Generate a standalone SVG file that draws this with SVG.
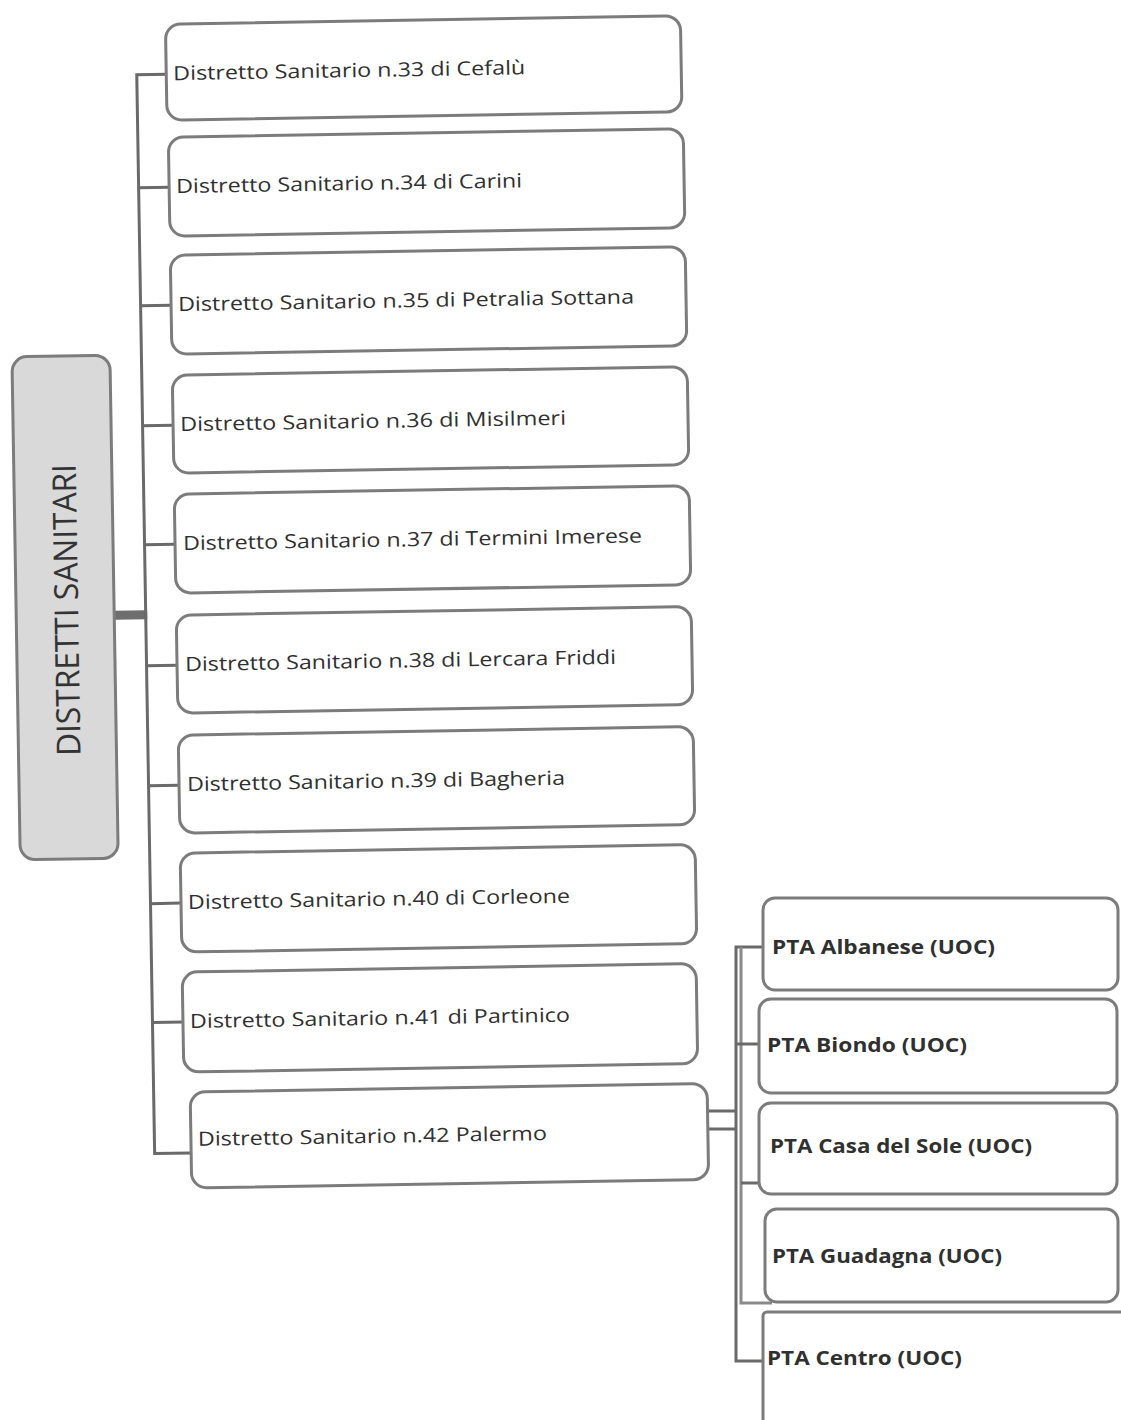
<svg xmlns="http://www.w3.org/2000/svg" width="1121" height="1420" viewBox="0 0 1121 1420">
<style>
.bg{fill:#ffffff}
.box{fill:#ffffff;stroke:#7c7c7c;stroke-width:3}
.root{fill:#d9d9d9;stroke:#7c7c7c;stroke-width:3}
.t{font-family:"Open Sans","Noto Sans",sans-serif;font-size:19.5px;fill:#303030}
.tb{font-family:"Open Sans","Noto Sans",sans-serif;font-size:19.5px;font-weight:bold;fill:#303030}
.rt{font-family:"Open Sans","Noto Sans",sans-serif;font-size:33px;fill:#333333}
.ln{fill:none;stroke:#6a6a6a;stroke-width:3}
.ln2{fill:none;stroke:#8a8a8a;stroke-width:3}
.thick{fill:none;stroke:#6e6e6e;stroke-width:9}
</style>
<rect class="bg" x="0" y="0" width="1121" height="1420"/>
<g id="connectors">
  <g transform="rotate(-0.95)">
    <path class="thick" d="M104 617 H137"/>
    <path class="ln" d="M166 77 H135.5 V1156 H172"/>
    <path class="ln" d="M135.5 190 H166 M135.5 308 H166 M135.5 428 H166 M135.5 547 H166 M135.5 668 H166 M135.5 788 H166 M135.5 906 H166 M135.5 1025 H166"/>
  </g>
  <path class="ln" d="M707 1111 H737 M707 1129 H737"/>
  <path class="ln" d="M763 947 H736 V1361 H763"/>
  <path class="ln2" d="M741 947 V1303 H772"/>
  <path class="ln" d="M736 1044 H761 M741 1183 H770"/>
</g>
<g transform="rotate(-0.95)">
  <g id="root">
    <rect class="root" x="6" y="357" width="98" height="503" rx="15"/>
    <text class="rt" x="68" y="611" text-anchor="middle" textLength="292" lengthAdjust="spacingAndGlyphs" transform="rotate(-90 68 611)">DISTRETTI SANITARI</text>
  </g>
  <g id="ds33">
    <rect class="box" x="165" y="27" width="515" height="96" rx="15"/>
    <text class="t" x="172" y="83" textLength="352" lengthAdjust="spacingAndGlyphs">Distretto Sanitario n.33 di Cefalù</text>
  </g>
  <g id="ds34">
    <rect class="box" x="166" y="140" width="515" height="99" rx="15"/>
    <text class="t" x="173" y="196" textLength="346" lengthAdjust="spacingAndGlyphs">Distretto Sanitario n.34 di Carini</text>
  </g>
  <g id="ds35">
    <rect class="box" x="166" y="258" width="515" height="99" rx="15"/>
    <text class="t" x="173" y="314" textLength="456" lengthAdjust="spacingAndGlyphs">Distretto Sanitario n.35 di Petralia Sottana</text>
  </g>
  <g id="ds36">
    <rect class="box" x="166" y="378" width="515" height="98" rx="15"/>
    <text class="t" x="173" y="434" textLength="386" lengthAdjust="spacingAndGlyphs">Distretto Sanitario n.36 di Misilmeri</text>
  </g>
  <g id="ds37">
    <rect class="box" x="166" y="497" width="515" height="99" rx="15"/>
    <text class="t" x="174" y="553" textLength="459" lengthAdjust="spacingAndGlyphs">Distretto Sanitario n.37 di Termini Imerese</text>
  </g>
  <g id="ds38">
    <rect class="box" x="166" y="618" width="515" height="98" rx="15"/>
    <text class="t" x="174" y="674" textLength="431" lengthAdjust="spacingAndGlyphs">Distretto Sanitario n.38 di Lercara Friddi</text>
  </g>
  <g id="ds39">
    <rect class="box" x="166" y="738" width="515" height="98" rx="15"/>
    <text class="t" x="174" y="794" textLength="378" lengthAdjust="spacingAndGlyphs">Distretto Sanitario n.39 di Bagheria</text>
  </g>
  <g id="ds40">
    <rect class="box" x="166" y="856" width="515" height="99" rx="15"/>
    <text class="t" x="173" y="912" textLength="382" lengthAdjust="spacingAndGlyphs">Distretto Sanitario n.40 di Corleone</text>
  </g>
  <g id="ds41">
    <rect class="box" x="166" y="975" width="514" height="100" rx="15"/>
    <text class="t" x="173" y="1031" textLength="380" lengthAdjust="spacingAndGlyphs">Distretto Sanitario n.41 di Partinico</text>
  </g>
  <g id="ds42">
    <rect class="box" x="172" y="1095" width="517" height="96" rx="15"/>
    <text class="t" x="179" y="1149" textLength="349" lengthAdjust="spacingAndGlyphs">Distretto Sanitario n.42 Palermo</text>
  </g>
</g>
<g id="pta-albanese">
  <rect class="box" x="763" y="898" width="355" height="92" rx="12"/>
  <text class="tb" x="772" y="954" textLength="223" lengthAdjust="spacingAndGlyphs">PTA Albanese (UOC)</text>
</g>
<g id="pta-biondo">
  <rect class="box" x="759" y="999" width="358" height="94" rx="12"/>
  <text class="tb" x="767" y="1052" textLength="200" lengthAdjust="spacingAndGlyphs">PTA Biondo (UOC)</text>
</g>
<g id="pta-casa-del-sole">
  <rect class="box" x="759" y="1103" width="358" height="91" rx="12"/>
  <text class="tb" x="770" y="1153" textLength="262" lengthAdjust="spacingAndGlyphs">PTA Casa del Sole (UOC)</text>
</g>
<g id="pta-guadagna">
  <rect class="box" x="765" y="1209" width="353" height="93" rx="12"/>
  <text class="tb" x="772" y="1263" textLength="230" lengthAdjust="spacingAndGlyphs">PTA Guadagna (UOC)</text>
</g>
<g id="pta-centro">
  <rect class="box" x="763" y="1312" width="370" height="130" rx="4"/>
  <text class="tb" x="767" y="1365" textLength="195" lengthAdjust="spacingAndGlyphs">PTA Centro (UOC)</text>
</g>
</svg>
